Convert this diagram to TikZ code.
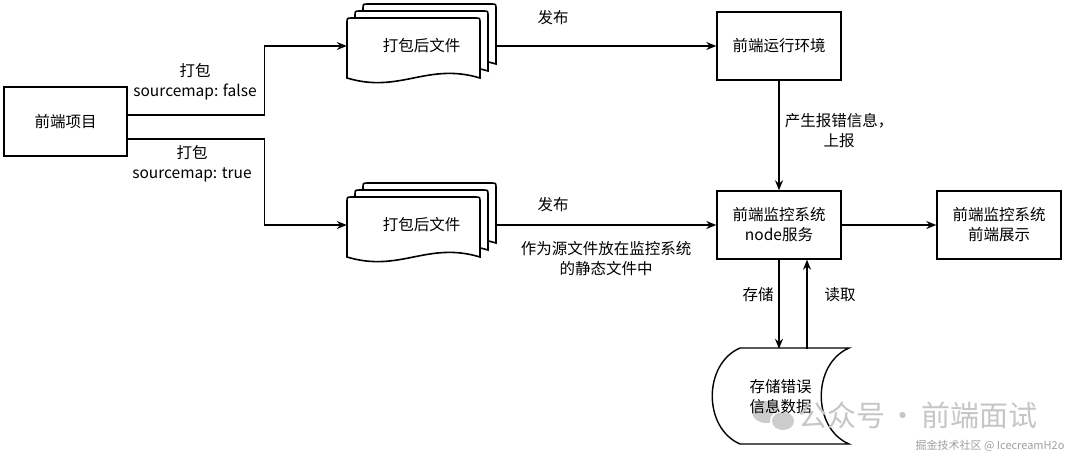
\documentclass[tikz,border=0pt]{standalone}
\usepackage{fontspec}
\setmainfont{Noto Sans CJK SC}
\usetikzlibrary{arrows.meta,calc}
\newcommand\docpage[2]{%
  \draw[docline] (#1,#2+60) -- (#1,#2+5) .. controls (#1,#2) .. (#1+5,#2) -- (#1+128,#2) .. controls (#1+133,#2) .. (#1+133,#2+5) -- (#1+133,#2+60) .. controls (#1+80,#2+44) and (#1+53,#2+76) .. (#1,#2+60) -- cycle;}
\newcommand\docstack[2]{\docpage{#1+16}{#2}\docpage{#1+8}{#2+7}\docpage{#1}{#2+14}}
\begin{document}
\begin{tikzpicture}[x=1pt,y=-1pt,
  box/.style={draw, line width=1.4pt, fill=white, minimum width=124pt, minimum height=68pt, align=center, inner sep=0pt, font=\fontsize{15.5}{20}\selectfont},
  lbl/.style={align=center, inner sep=0pt, font=\fontsize{15.5}{20}\selectfont},
  docline/.style={draw, line width=1.6pt, fill=white},
  arr/.style={line width=1.3pt, -{Stealth[length=10pt,width=8pt]}}]
\fill[white] (0,0) rectangle (1080,464);
\useasboundingbox (0,0) rectangle (1080,464);

\node[box, minimum width=123pt, minimum height=69pt] (proj) at (65.5,121.5) {前端项目};
\node[box] (env) at (779,46) {前端运行环境};
\node[box] (mon) at (779,225) {前端监控系统\\node服务};
\node[box] (disp) at (999,225) {前端监控系统\\前端展示};

\docstack{347}{4}
\docstack{347}{183}
\node[lbl, minimum width=149pt] (doc1) at (421.5,46) {打包后文件};
\node[lbl, minimum width=149pt] (doc2) at (421.5,225) {打包后文件};

% storage shape
\draw[docline, line width=1.4pt] (740,348) -- (849,348) .. controls (812,364) and (812,428) .. (849,444) -- (740,444) .. controls (703,428) and (703,364) .. (740,348) -- cycle;
% watermark icon
\fill[gray!40] (766,412) ellipse [x radius=14pt, y radius=11pt];
\fill[white] (783,421) ellipse [x radius=13pt, y radius=11pt];
\fill[gray!40] (783,421) ellipse [x radius=11pt, y radius=9pt];
\node[lbl, minimum width=137pt, minimum height=96pt] (store) at (780.5,397) {存储错误\\信息数据};

% connectors
\draw[arr] ([yshift=6.5pt]proj.east) -- ++(137,0) |- (doc1.west);
\draw[arr] ([yshift=-17.5pt]proj.east) -- ++(137,0) |- (doc2.west);
\draw[arr] (doc1.east) -- (env.west);
\draw[arr] (doc2.east) -- (mon.west);
\draw[arr] (env.south) -- (mon.north);
\draw[arr] (mon.east) -- (disp.west);
\draw[arr] (mon.south) -- (mon.south |- store.north);
\draw[arr] ($(mon.south |- store.north)+(28,0)$) -- ($(mon.south)+(28,0)$);

% labels
\node[lbl] (l1) at (195,82) {打包\\sourcemap: false};
\node[lbl] (l2) at (192,164) {打包\\sourcemap: true};
\node[lbl] (l3) at (553,18) {发布};
\node[lbl] (l4) at (553,205) {发布};
\node[lbl] (l5) at (606,258.5) {作为源文件放在监控系统\\的静态文件中};
\node[lbl] (l6) at (839,131) {产生报错信息，\\上报};
\node[lbl] (l7) at (758,295) {存储};
\node[lbl] (l8) at (840,295) {读取};

% watermark text
\node[inner sep=0pt, text=gray!45, font=\fontsize{29}{29}\selectfont] (wm) at (918,415) {公众号\hspace{4pt}·\hspace{4pt}前端面试};
\node[inner sep=0pt, text=gray!75, font=\fontsize{11}{11}\selectfont] (wm2) at (990,446) {掘金技术社区 @ IcecreamH2o};
\end{tikzpicture}
\end{document}
